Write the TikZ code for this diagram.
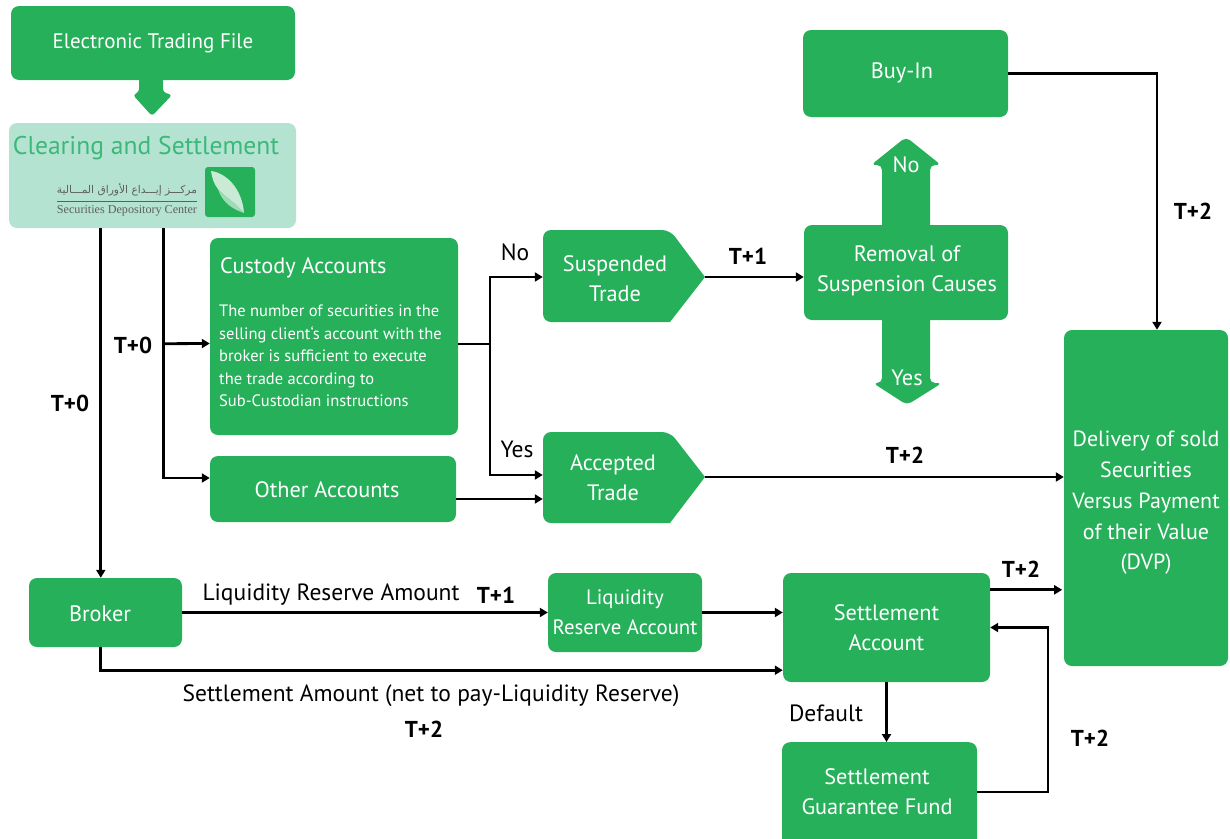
\documentclass[tikz,border=0pt]{standalone}
\usepackage{fontspec}
\usepackage{graphicx}
\setmainfont{PT Sans}
\newfontfamily\arabicfont[Script=Arabic]{DejaVu Sans}
\newfontfamily\logoserif{Liberation Serif}
\TeXXeTstate=1
\usetikzlibrary{arrows.meta,calc}
\definecolor{gr}{RGB}{38,176,90}
\definecolor{lightgr}{RGB}{181,227,209}
\definecolor{cleartxt}{RGB}{60,184,122}
\definecolor{logogrey}{RGB}{95,95,95}
\begin{document}
\begin{tikzpicture}[x=1pt,y=-1pt,
  box/.style={fill=gr, rounded corners=8pt, text=white, align=center, inner sep=0pt,
    font=\fontsize{22.3}{30}\selectfont},
  intext/.style={text=white, align=center, inner sep=0pt, font=\fontsize{22.3}{30}\selectfont},
  conn/.style={line width=2.8pt, -{Triangle[length=8pt,width=9pt]}},
  plainline/.style={line width=2.8pt},
  lbl/.style={font=\fontsize{23.5}{25}\selectfont, text=black, inner sep=0pt},
  tlbl/.style={font=\bfseries\fontsize{23}{25}\selectfont, text=black, inner sep=0pt},
]
\useasboundingbox (0,0) rectangle (1230,838);

% ---------- top-left ----------
\node[box, minimum width=284pt, minimum height=74pt, font=\fontsize{21}{25}\selectfont] (etf) at (153,43) {Electronic Trading File};
\fill[gr, rounded corners=3pt] (139,78) -- (139,92) -- (133,95) -- (152,116) -- (172,95) -- (163,92) -- (163,78) -- cycle;

\node[fill=lightgr, rounded corners=8pt, minimum width=287pt, minimum height=105pt, inner sep=0pt] (clear) at (152.5,175.5) {};
\node[text=cleartxt, inner sep=0pt, font=\fontsize{25.6}{30}\selectfont] (cleartitle) at (146,148) {Clearing and Settlement};
% logo
\fill[gr, rounded corners=3pt] (205,167) rectangle (255,217);
\fill[white!75!gr] (211,171) .. controls (226,173) and (242,188) .. (244,213)
   .. controls (236,203) and (225,197) .. (218,189) .. controls (214,184) and (212,178) .. (211,171) -- cycle;
\fill[white!55!gr] (218,189) .. controls (225,197) and (236,203) .. (244,213)
   .. controls (232,209) and (222,202) .. (218,189) -- cycle;
\node[text=logogrey, inner sep=0pt] (logoar) at (127,190)
  {\resizebox{140pt}{!}{\arabicfont\beginR مركـــز إيـــداع الأوراق المـــالية\endR}};
\draw[logogrey, line width=0.8pt] (57,201.5) -- (197,201.5);
\node[text=logogrey, inner sep=0pt] (logoen) at (127,211)
  {\resizebox{140pt}{!}{\logoserif Securities Depository Center}};

% ---------- accounts ----------
\node[box, minimum width=248pt, minimum height=197pt] (custody) at (334,336.5) {};
\node[intext, anchor=west] (custtitle) at (220,268) {Custody Accounts};
\node[intext, anchor=west, align=left, font=\fontsize{16.5}{22.4}\selectfont] (custbody) at (219,356)
  {The number of securities in the\\selling client`s account with the\\broker is sufficient to execute\\the trade according to\\Sub-Custodian instructions};
\node[box, minimum width=246pt, minimum height=66pt] (other) at (333,489) {};
\node[intext] (othertext) at (327,490) {Other Accounts};

% ---------- trades ----------
\fill[gr, rounded corners=8pt] (543,277) -- (543,230) -- (670,230) [sharp corners]-- (705,277) -- (670,322) [rounded corners=8pt]-- (543,322) -- cycle;
\node[intext, minimum width=128pt, minimum height=92pt] (susp) at (607,277) {};
\node[intext] (susptext) at (615,279) {Suspended\\Trade};
\coordinate (susptip) at (705,277);

\fill[gr, rounded corners=8pt] (543,477) -- (543,432) -- (670,432) [sharp corners]-- (705,477) -- (670,523) [rounded corners=8pt]-- (543,523) -- cycle;
\node[intext, minimum width=128pt, minimum height=91pt] (acc) at (607,477) {};
\node[intext] (acctext) at (613,478) {Accepted\\Trade};
\coordinate (acctip) at (705,477);

% ---------- removal cross ----------
\fill[gr, rounded corners=5pt] (882,230) -- (882,165) -- (871,165) -- (906,137) -- (941,165) -- (930,165) -- (930,230) -- cycle;
\fill[gr, rounded corners=5pt] (882,315) -- (882,383) -- (873,383) -- (907,405) -- (942,383) -- (930,383) -- (930,315) -- cycle;
\node[box, minimum width=204pt, minimum height=95pt] (removal) at (906,272.5) {};
\node[intext] (remtext) at (907,271) {Removal of\\Suspension Causes};
\node[intext] (remno) at (906,165) {No};
\node[intext] (remyes) at (907,378) {Yes};

% ---------- right side ----------
\node[box, minimum width=205pt, minimum height=87pt] (buyin) at (905.5,73.5) {};
\node[intext] (buyintext) at (902,73) {Buy-In};
\node[box, minimum width=164pt, minimum height=336pt] (dvp) at (1146,498) {};
\node[intext, font=\fontsize{22}{30.8}\selectfont] (dvptext) at (1146,503)
  {Delivery of sold\\Securities\\Versus Payment\\of their Value\\(DVP)};

% ---------- bottom ----------
\node[box, minimum width=153pt, minimum height=69pt] (broker) at (105.5,612.5) {};
\node[intext] (brokertext) at (100,614) {Broker};
\node[box, minimum width=154pt, minimum height=79pt, font=\fontsize{20.8}{30}\selectfont] (liq) at (625,612.5) {Liquidity\\Reserve Account};
\node[box, minimum width=207pt, minimum height=109pt] (settle) at (886.5,627.5) {Settlement\\Account};
\node[box, minimum width=195pt, minimum height=108pt, anchor=north] (sgf) at (879.5,742) {};
\node[intext] (sgftext) at (877,792) {Settlement\\Guarantee Fund};

% ---------- connectors ----------
\draw[conn] ($(clear.south west)+(92,0)$) -- ($(broker.north west)+(72,0)$);
\draw[conn] ($(clear.south west)+(155,0)$) |- ($(other.west)+(0,-11)$);
\draw[conn] ($(clear.south west)+(155,115.5)$) -- ($(custody.west)+(0,7)$);
\draw[plainline] ($(custody.east)+(0,7.5)$) -- (490,344);
\draw[conn] (490,345) |- (susp.west);
\draw[conn] (490,343) |- ($(acc.west)+(0,-2)$);
\draw[conn] ($(other.east)+(0,10)$) -- ($(acc.west)+(0,22)$);
\draw[conn] (susptip) -- (susptip -| removal.west);
\draw[conn] (acctip) -- (acctip -| dvp.west);
\draw[conn] (buyin.east) -| ($(dvp.north)+(11,0)$);
\draw[conn] (broker.east) -- (broker.east -| liq.west);
\draw[conn] ($(broker.south west)+(72,0)$) |- ($(settle.south west)+(0,-12)$);
\draw[conn] (liq.east) -- (liq.east -| settle.west);
\draw[conn] ($(settle.north east)+(0,17)$) -- ++(72,0);
\draw[conn] (settle.south) -- (settle.south |- sgf.north);
\draw[conn] ($(sgf.north east)+(0,50)$) -- (1048,792) |- (settle.east);

% ---------- labels ----------
\node[tlbl] (l1) at (133,345) {T+0};
\node[tlbl] (l2) at (70,403) {T+0};
\node[lbl] (l3) at (515,252) {No};
\node[lbl] (l4) at (517,449) {Yes};
\node[tlbl] (l5) at (748,256) {T+1};
\node[tlbl] (l6) at (1193,211) {T+2};
\node[tlbl] (l7) at (905,455) {T+2};
\node[lbl] (l8) at (331,595) {Liquidity Reserve Amount};
\node[tlbl] (l9) at (496,595) {T+1};
\node[lbl] (l10) at (431,696) {Settlement Amount (net to pay-Liquidity Reserve)};
\node[tlbl] (l11) at (424,729) {T+2};
\node[tlbl] (l12) at (1021,569) {T+2};
\node[lbl] (l13) at (826,713) {Default};
\node[tlbl] (l14) at (1090,738) {T+2};
\end{tikzpicture}
\end{document}
